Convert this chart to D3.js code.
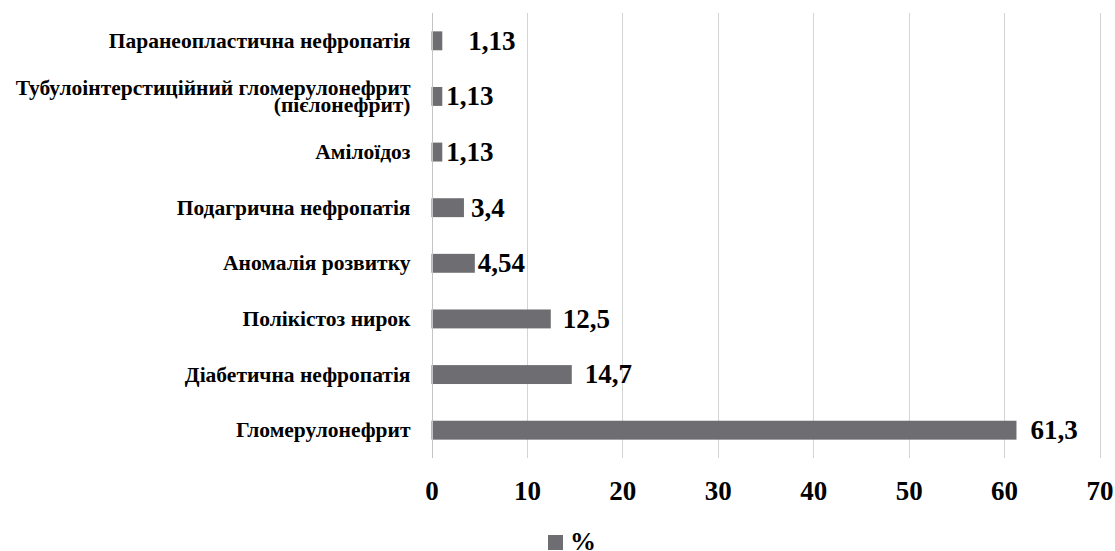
<!DOCTYPE html>
<html>
<head>
<meta charset="utf-8">
<script src="https://cdn.jsdelivr.net/npm/d3@7"></script>
<style>
    body { margin: 0; background: #fff; }
    svg { display: block; }
    svg text { font-family: "Liberation Serif", "Times New Roman", Times, serif; font-weight: bold; }
</style>
</head>
<body>
<svg id="canvas"></svg>
<script>
// categories, top to bottom
let categories = [
    "Паранеопластична нефропатія",
    "Тубулоінтерстиційний гломерулонефрит\n(пієлонефрит)",
    "Амілоїдоз",
    "Подагрична нефропатія",
    "Аномалія розвитку",
    "Полікістоз нирок",
    "Діабетична нефропатія",
    "Гломерулонефрит"
]
let values = [1.13, 1.13, 1.13, 3.4, 4.54, 12.5, 14.7, 61.3]
let valueLabels = ["1,13", "1,13", "1,13", "3,4", "4,54", "12,5", "14,7", "61,3"]
let xTicks = [0, 10, 20, 30, 40, 50, 60, 70]
let legendLabel = "%"

// labels were dragged a bit in the original, keep those nudges apart from the data
let labelNudge = [26, 4, 4, 7, 3, 12, 13, 14]

const width = 1115
const height = 551
const margin = {left: 431.5, right: 15.5, top: 13, bottom: 93}
const barColor = "#6e6e72"
const gridColor = "#d4d4d4"

let svg = d3.select("#canvas")
    .attr("width", width)
    .attr("height", height)

let x = d3.scaleLinear()
    .domain([0, 70])
    .range([margin.left, width - margin.right])

let y = d3.scaleBand()
    .domain(categories)
    .range([margin.top, height - margin.bottom])
    .paddingInner(0.66)
    .paddingOuter(0.33)

// vertical gridlines
svg.append("g")
    .selectAll("line")
    .data(xTicks)
    .enter().append("line")
    .attr("x1", d => Math.round(x(d)) + 0.5)
    .attr("x2", d => Math.round(x(d)) + 0.5)
    .attr("y1", margin.top)
    .attr("y2", height - margin.bottom)
    .attr("stroke", gridColor)
    .attr("stroke-width", 1)

// x tick labels via axis, domain/ticks hidden
let xAxis = svg.append("g")
    .attr("transform", "translate(0," + (height - margin.bottom) + ")")
    .call(d3.axisBottom(x).tickValues(xTicks).tickSize(0).tickPadding(0))
xAxis.attr("font-family", null).attr("font-size", null)
xAxis.select(".domain").remove()
xAxis.selectAll("text")
    .attr("y", 33)
    .attr("dy", "0.35em")
    .attr("fill", "#000")
    .style("font-size", "27px")

// bars
svg.append("g")
    .selectAll("rect")
    .data(values)
    .enter().append("rect")
    .attr("x", x(0))
    .attr("y", (d, i) => y(categories[i]))
    .attr("width", d => x(d) - x(0))
    .attr("height", y.bandwidth())
    .attr("fill", barColor)

// category axis line
svg.append("line")
    .attr("x1", Math.round(x(0)) + 0.5)
    .attr("x2", Math.round(x(0)) + 0.5)
    .attr("y1", margin.top)
    .attr("y2", height - margin.bottom)
    .attr("stroke", "#c4c4c4")

// category labels
let catGroup = svg.append("g")
categories.forEach(function(c, i) {
    let lines = c.split("\n")
    let cy = y(c) + y.bandwidth() / 2
    let lh = 17.5
    let t = catGroup.append("text")
        .attr("text-anchor", "end")
        .style("font-size", "21.5px")
        .attr("fill", "#000")
    lines.forEach(function(l, j) {
        t.append("tspan")
            .attr("x", x(0) - 21)
            .attr("y", cy + (j - (lines.length - 1) / 2) * lh)
            .attr("dy", "0.33em")
            .text(l)
    })
})

// value labels
svg.append("g")
    .selectAll("text")
    .data(values)
    .enter().append("text")
    .attr("x", (d, i) => x(d) + labelNudge[i])
    .attr("y", (d, i) => y(categories[i]) + y.bandwidth() / 2)
    .attr("dy", "0.33em")
    .style("font-size", "27px")
    .attr("fill", "#000")
    .text((d, i) => valueLabels[i])

// legend
let legend = svg.append("g")
    .attr("transform", "translate(548,535)")
legend.append("rect")
    .attr("width", 15)
    .attr("height", 15)
    .attr("fill", barColor)
legend.append("text")
    .attr("x", 22)
    .attr("y", 15)
    .style("font-size", "26px")
    .attr("fill", "#000")
    .text(legendLabel)
</script>
</body>
</html>
